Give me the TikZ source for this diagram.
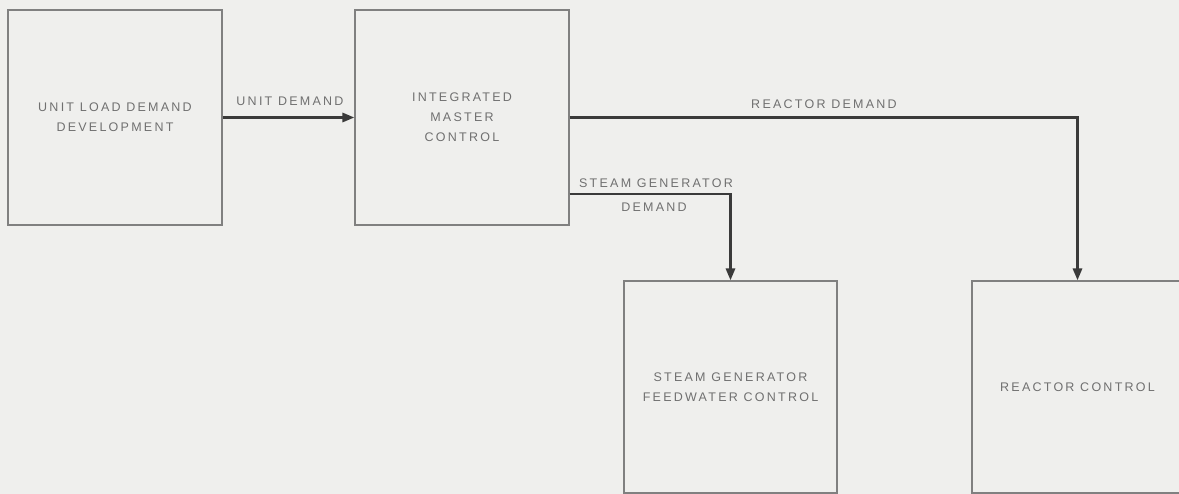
\documentclass[tikz,border=0pt]{standalone}
\usepackage{fontspec}
\setmainfont{Liberation Sans}[LetterSpace=18]
\usetikzlibrary{arrows.meta}
\definecolor{bg}{HTML}{EFEFED}
\definecolor{boxline}{HTML}{808080}
\definecolor{flowc}{HTML}{3A3A3A}
\definecolor{txt}{HTML}{707070}
\tikzset{
  blockbox/.style={draw=boxline, line width=1.1pt, rectangle, inner sep=0pt,
    align=center, text=txt, font=\fontsize{12.5}{20}\selectfont},
  flow/.style={draw=flowc, line width=2.8pt, -{Triangle[length=12pt,width=9pt]}},
  flowlabel/.style={text=txt, font=\fontsize{12.5}{20}\selectfont, inner sep=0pt, align=center}
}
\begin{document}
\begin{tikzpicture}[x=1pt,y=-1pt]
\useasboundingbox (0,0) rectangle (1179,494);
\clip (0,0) rectangle (1179,494);
\fill[bg] (0,0) rectangle (1179,494);

\node[blockbox, minimum width=214pt, minimum height=215pt] (b1) at (115,117.5)
  {UNIT LOAD DEMAND\\DEVELOPMENT};
\node[blockbox, minimum width=214pt, minimum height=215pt] (b2) at (462,117.5)
  {INTEGRATED\\MASTER\\CONTROL};
\node[blockbox, minimum width=213pt, minimum height=212pt] (b3) at (730.5,387)
  {STEAM GENERATOR\\FEEDWATER CONTROL};
\node[blockbox, minimum width=211pt, minimum height=212pt] (b4) at (1077.5,387)
  {REACTOR CONTROL};

\draw[flow] (b1.east) -- (b2.west);
\draw[flow] (b2.east) -| (b4.north);
\draw[flow] ([yshift=-76.5pt]b2.east) -| (b3.north);

\node[flowlabel] (lunit) at (290,101) {UNIT DEMAND};
\node[flowlabel] (lreact) at (824,104) {REACTOR DEMAND};
\node[flowlabel] (lsg1) at (656,183) {STEAM GENERATOR};
\node[flowlabel] (lsg2) at (654,207) {DEMAND};
\end{tikzpicture}
\end{document}
